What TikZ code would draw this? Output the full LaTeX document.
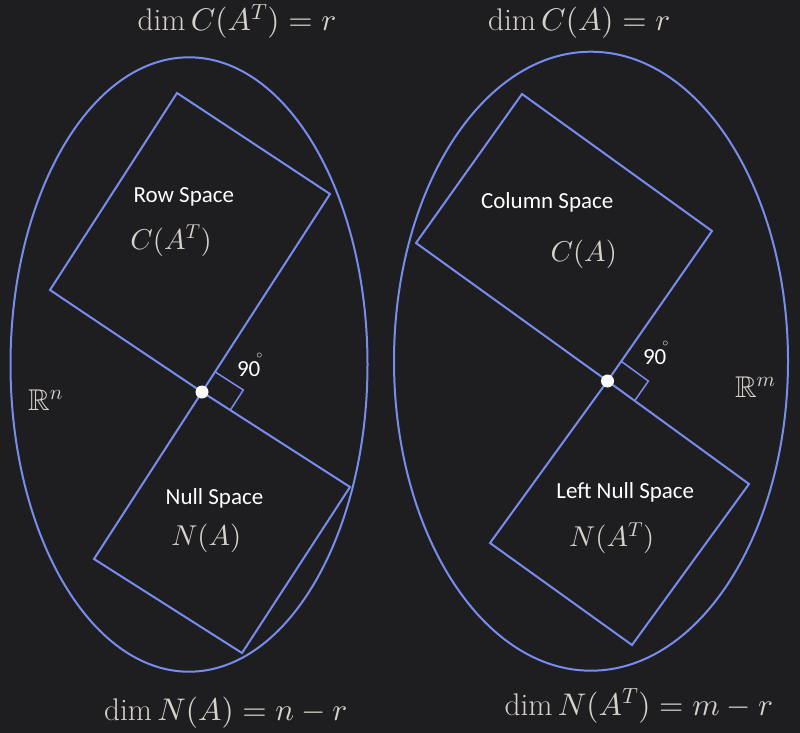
\documentclass[tikz,border=0pt]{standalone}
\usepackage{amsmath,amssymb}
\usepackage{fontspec}
\newfontfamily\labelfont{Carlito}
\DeclareFontShape{OML}{cmm}{m}{it}{<-> cmmi10}{}
\DeclareFontShape{OMS}{cmsy}{m}{n}{<-> cmsy10}{}
\DeclareFontShape{OT1}{cmr}{m}{n}{<-> cmr10}{}
\DeclareFontShape{OMX}{cmex}{m}{n}{<-> cmex10}{}
\DeclareFontFamily{U}{msb}{}
\DeclareFontShape{U}{msb}{m}{n}{<-> msbm10}{}
\usetikzlibrary{
  calc
}
\definecolor{spaceblue}{RGB}{120,140,240}
\definecolor{backdrop}{RGB}{30,30,32}
\definecolor{mathgray}{RGB}{214,210,202}
\tikzset{
%
  % For the outlines of spaces and subspaces.
  line/.style={
    draw=spaceblue,
    line width=2pt},
%
  % For the right angle marks.
  thin line/.style={
    draw=spaceblue,
    line width=1.5pt},
%
  % For the names of the subspaces.
  name text/.style={
    anchor=base,
    text=white,
    font=\labelfont\fontsize{23}{28}\selectfont},
%
  % For the symbols of the subspaces.
  symbol text/.style={
    anchor=base,
    text=mathgray,
    font=\fontsize{28.7}{34}\selectfont},
%
  % For the dimensions above and below.
  dim text/.style={
    anchor=base,
    text=mathgray,
    font=\fontsize{31.3}{38}\selectfont},
%
  % For the common zero vector.
  origin/.style={
    circle,
    fill=white,
    inner sep=0pt,
    minimum size=13pt}
}

\begin{document}
\begin{tikzpicture}[x=1pt, y=-1pt]
  \fill[backdrop] (0,0) rectangle (800,733);
  \useasboundingbox (0,0) rectangle (800,733);

  % R^n with row space and null space.
  \draw[line] (189,364.5) ellipse [x radius=178.5, y radius=307.2];
  \coordinate (O1) at (202,392);
  \coordinate (R1) at (330,194);
  \coordinate (R2) at (177,93);
  \coordinate (R3) at (50,290);
  \coordinate (N1) at (350,487);
  \coordinate (N2) at (242,653);
  \coordinate (N3) at (94,559);
  \draw[line] (O1) -- (R1) -- (R2) -- (R3) -- cycle;
  \draw[line] (O1) -- (N1) -- (N2) -- (N3) -- cycle;
  \coordinate (M1) at ($(O1)!24pt!(R1)$);
  \coordinate (M2) at ($(O1)!33.6pt!(N1)$);
  \draw[thin line] (M1) -- ($(M1)+(M2)-(O1)$) -- (M2);
  \node[origin] (Z1) at (O1) {};

  % R^m with column space and left null space.
  \draw[line] (591,361.2) ellipse [x radius=197, y radius=309.5];
  \coordinate (O2) at (607.5,381);
  \coordinate (C1) at (712,231);
  \coordinate (C2) at (522,94);
  \coordinate (C3) at (416,243);
  \coordinate (L1) at (749,484);
  \coordinate (L2) at (632,645);
  \coordinate (L3) at (490,543);
  \draw[line] (O2) -- (C1) -- (C2) -- (C3) -- cycle;
  \draw[line] (O2) -- (L1) -- (L2) -- (L3) -- cycle;
  \coordinate (M3) at ($(O2)!24pt!(C1)$);
  \coordinate (M4) at ($(O2)!33.6pt!(L1)$);
  \draw[thin line] (M3) -- ($(M3)+(M4)-(O2)$) -- (M4);
  \node[origin] (Z2) at (O2) {};

  % Labels.
  \node[dim text] (dimrow) at (237,31) {$\dim C(A^T) = r$};
  \node[dim text] (dimcol) at (579.2,30.7) {$\dim C(A) = r$};
  \node[dim text] (dimnull) at (225.8,720.7) {$\dim N(A) = n - r$};
  \node[dim text] (dimleft) at (638.8,715) {$\dim N(A^T) = m - r$};

  \node[name text] (row) at (183.8,202.7) {Row Space};
  \node[symbol text] (rowsym) at (171,249.3) {$C(A^T)$};
  \node[name text] (null) at (214.5,504) {Null Space};
  \node[symbol text] (nullsym) at (206.3,545) {$N(A)$};
  \node[name text] (col) at (547.2,208.3) {Column Space};
  \node[symbol text] (colsym) at (583.7,261.7) {$C(A)$};
  \node[name text] (left) at (625.3,498.3) {Left Null Space};
  \node[symbol text] (leftsym) at (611.7,546.7) {$N(A^T)$};

  \node[symbol text, font=\fontsize{30}{36}\selectfont] (Rn) at (45.5,410.7) {$\mathbb{R}^n$};
  \node[symbol text, font=\fontsize{30}{36}\selectfont] (Rm) at (755.3,397.3) {$\mathbb{R}^m$};

  \node[name text] (angle1) at (248.7,376.7)
    {90\makebox[0pt][l]{\hspace{-4pt}\raisebox{18pt}{\fontsize{12}{12}\selectfont$\circ$}}};
  \node[name text] (angle2) at (654.7,364)
    {90\makebox[0pt][l]{\hspace{-4pt}\raisebox{18pt}{\fontsize{12}{12}\selectfont$\circ$}}};
\end{tikzpicture}
\end{document}
